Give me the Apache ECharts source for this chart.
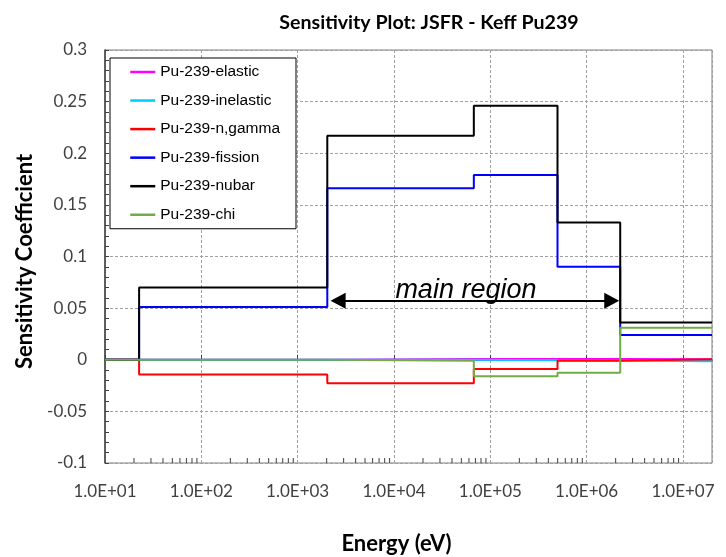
<!DOCTYPE html>
<html>
<head>
<meta charset="utf-8">
<script src="https://cdn.jsdelivr.net/npm/echarts@6/dist/echarts.min.js"></script>
<style>html,body{margin:0;padding:0;background:#fff}#c{width:726px;height:557px}</style>
</head>
<body>
<div id="c"></div>
<script>
// Energy group edges (eV)
const edges = [10, 22.6, 2030, 67400, 498000, 2230000, 20000000];
// Sensitivity per group (group between edges[i] and edges[i+1])
const elastic   = [0, 0,       0.0008,  0.0008, 0.0008,  0.0005];
const inelastic = [0, 0,       0,      -0.0005, -0.0008, -0.0015];
const ngamma    = [0, -0.0143, -0.0227, -0.009, -0.001,  0.0004];
const fission   = [0, 0.051,   0.166,   0.179,  0.090,   0.024];
const nubar     = [0, 0.070,   0.217,   0.246,  0.133,   0.036];
const chi       = [0, 0,       -0.001,  -0.016, -0.0127, 0.031];
const seriesNames = ['Pu-239-elastic','Pu-239-inelastic','Pu-239-n,gamma','Pu-239-fission','Pu-239-nubar','Pu-239-chi'];
const seriesColors = ['#FF00FF','#00CCFF','#FF0000','#0000FF','#000000','#70AD47'];
const seriesValues = [elastic, inelastic, ngamma, fission, nubar, chi];
// annotation arrow
const arrowFrom = 2630, arrowTo = 1820000, arrowY = 0.0572;
const arrowLabel = 'main region';

function stepData(vals){
  const d = [];
  for (let i = 0; i < vals.length; i++) d.push([edges[i], vals[i]]);
  d.push([edges[edges.length-1], vals[vals.length-1]]);
  return d;
}
// log minor tick positions (2..9 per decade)
const minorTicks = [];
for (let e = 1; e <= 7; e++) for (let m = 2; m <= 9; m++) { const v = m*Math.pow(10,e); if (v < 20000000) minorTicks.push([v, -0.1]); }

const chart = echarts.init(document.getElementById('c'), null, {renderer:'canvas'});
const series = seriesNames.map((n,i)=>({
  name:n, type:'line', step:'end', data: stepData(seriesValues[i]),
  symbol:'none', showSymbol:false, color: seriesColors[i],
  lineStyle:{color:seriesColors[i], width:2}, animation:false, silent:true
}));
series.push({
  name:'arrow', type:'line', data:[], symbol:'none', animation:false, silent:true,
  markLine:{
    silent:true, animation:false, symbol:['triangle','triangle'], symbolSize:[16,15],
    lineStyle:{color:'#000', width:2, type:'solid'},
    label:{show:true, position:'middle', formatter: arrowLabel, fontStyle:'italic', fontSize:27,
      fontFamily:'Liberation Sans', color:'#000', distance:-3, padding:[0,18,0,0]},
    data:[[{coord:[arrowFrom, arrowY]},{coord:[arrowTo, arrowY]}]]
  }
});
series.push({
  name:'minor', type:'custom', data: minorTicks, silent:true, animation:false,
  renderItem:(params, api)=>{
    const p = api.coord([api.value(0), api.value(1)]);
    return {type:'line', shape:{x1:p[0], y1:p[1], x2:p[0], y2:p[1]-5}, style:{stroke:'#404040', lineWidth:1}};
  }
});

chart.setOption({
  animation:false,
  title:{text:'Sensitivity Plot: JSFR - Keff Pu239', left:424, top:8, textAlign:'center',
    textStyle:{fontFamily:'Lato', fontWeight:'bold', fontSize:19.6, color:'#000'}},
  grid:{left:105, top:50, right:14, bottom:94, show:true, borderColor:'#7f7f7f', borderWidth:1,
    containLabel:false, outerBoundsMode:'none'},
  legend:{data:seriesNames, orient:'vertical', left:110, top:58, itemWidth:25, itemHeight:16, itemGap:12.55,
    padding:[6,16,6,19], backgroundColor:'#fff', borderColor:'#000', borderWidth:1, selectedMode:false,
    itemStyle:{opacity:0}, lineStyle:{width:2.5},
    textStyle:{fontFamily:'Liberation Sans', fontSize:15.5, color:'#000'}},
  xAxis:{type:'log', logBase:10, min:10, max:20000000,
    name:'Energy (eV)', nameLocation:'middle', nameGap:70,
    nameTextStyle:{fontFamily:'Lato', fontWeight:'bold', fontSize:22, color:'#000', padding:[0,24,0,0]},
    axisLine:{show:true, lineStyle:{color:'#404040', width:1.5}},
    axisTick:{show:true, inside:true, length:5, lineStyle:{color:'#404040'}},
    minorTick:{show:false},
    splitLine:{show:true, lineStyle:{color:'#A0A0A0', type:[3,2], width:1}},
    axisLabel:{showMaxLabel:false, margin:20, fontFamily:'Lato', fontSize:17, color:'#404040',
      formatter:(v)=>{const e=Math.round(Math.log10(v)); return '1.0E+'+(e<10?'0':'')+e;}}
  },
  yAxis:{type:'value', min:-0.1, max:0.3, interval:0.05,
    name:'Sensitivity Coefficient', nameLocation:'middle', nameGap:58,
    nameTextStyle:{fontFamily:'Lato', fontWeight:'bold', fontSize:22, color:'#000', padding:[0,10,0,0]},
    axisLine:{show:true, lineStyle:{color:'#404040', width:1.5}},
    axisTick:{show:true, inside:true, length:4, lineStyle:{color:'#404040'}},
    minorTick:{show:true, splitNumber:5, length:4, lineStyle:{color:'#404040'}},
    splitLine:{show:true, lineStyle:{color:'#A0A0A0', type:[3,2], width:1}},
    axisLabel:{margin:18, fontFamily:'Lato', fontSize:17, color:'#404040'}
  },
  series: series
});
</script>
</body>
</html>
